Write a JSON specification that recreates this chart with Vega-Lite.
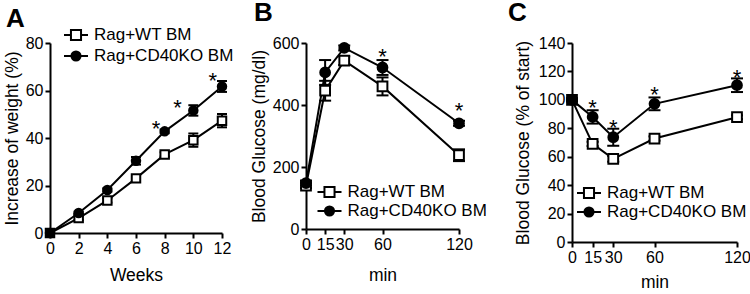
{
  "$schema": "https://vega.github.io/schema/vega-lite/v6.json",
  "background": "white",
  "padding": {"left": 3, "top": 0, "right": 5, "bottom": 5},
  "config": {
    "view": {"stroke": null},
    "font": "Liberation Sans",
    "axis": {
      "domainColor": "black", "domainWidth": 2, "tickColor": "black", "tickWidth": 2, "tickSize": 5,
      "labelFont": "Liberation Sans", "labelFontSize": 16, "labelColor": "black", "labelPadding": 2,
      "labelFlush": false, "labelOverlap": false, "labelBound": false,
      "titleFont": "Liberation Sans", "titleFontSize": 17.5, "titleFontWeight": "normal", "titleColor": "black",
      "grid": false
    },
    "legend": {
      "padding": 0, "labelFont": "Liberation Sans", "labelFontSize": 17, "labelColor": "black",
      "symbolSize": 576, "symbolStrokeWidth": 2, "symbolStrokeColor": "black", "labelOffset": 5, "rowPadding": 1
    },
    "title": {"font": "Liberation Sans", "fontSize": 26, "fontWeight": "bold", "color": "black", "anchor": "start", "frame": "group"}
  },
  "datasets": {
    "a": [
      {"week": 0, "series": "Rag+WT BM", "mean": 0, "lo": 0, "hi": 0},
      {"week": 2, "series": "Rag+WT BM", "mean": 6.3, "lo": 5.5, "hi": 7.1},
      {"week": 4, "series": "Rag+WT BM", "mean": 13.7, "lo": 12.8, "hi": 14.6},
      {"week": 6, "series": "Rag+WT BM", "mean": 23.0, "lo": 22.0, "hi": 24.0},
      {"week": 8, "series": "Rag+WT BM", "mean": 33.1, "lo": 32.2, "hi": 34.0},
      {"week": 10, "series": "Rag+WT BM", "mean": 39.1, "lo": 36.3, "hi": 41.9},
      {"week": 12, "series": "Rag+WT BM", "mean": 47.3, "lo": 44.5, "hi": 50.1},
      {"week": 0, "series": "Rag+CD40KO BM", "mean": 0, "lo": 0, "hi": 0},
      {"week": 2, "series": "Rag+CD40KO BM", "mean": 8.4, "lo": 7.8, "hi": 9.0},
      {"week": 4, "series": "Rag+CD40KO BM", "mean": 18.1, "lo": 17.4, "hi": 18.8},
      {"week": 6, "series": "Rag+CD40KO BM", "mean": 30.4, "lo": 28.8, "hi": 32.0},
      {"week": 8, "series": "Rag+CD40KO BM", "mean": 42.8, "lo": 42.0, "hi": 43.6},
      {"week": 10, "series": "Rag+CD40KO BM", "mean": 51.6, "lo": 49.4, "hi": 53.8},
      {"week": 12, "series": "Rag+CD40KO BM", "mean": 61.7, "lo": 59.4, "hi": 64.0}
    ],
    "aStar": [
      {"week": 7.4, "y": 46, "label": "*"},
      {"week": 8.9, "y": 55, "label": "*"},
      {"week": 11.35, "y": 66.3, "label": "*"}
    ],
    "b": [
      {"min": 0, "series": "Rag+WT BM", "mean": 140, "lo": 132, "hi": 148},
      {"min": 15, "series": "Rag+WT BM", "mean": 446, "lo": 414, "hi": 478},
      {"min": 30, "series": "Rag+WT BM", "mean": 543, "lo": 529, "hi": 557},
      {"min": 60, "series": "Rag+WT BM", "mean": 460, "lo": 431, "hi": 489},
      {"min": 120, "series": "Rag+WT BM", "mean": 238, "lo": 219, "hi": 257},
      {"min": 0, "series": "Rag+CD40KO BM", "mean": 148, "lo": 140, "hi": 156},
      {"min": 15, "series": "Rag+CD40KO BM", "mean": 505, "lo": 465, "hi": 545},
      {"min": 30, "series": "Rag+CD40KO BM", "mean": 584, "lo": 576, "hi": 592},
      {"min": 60, "series": "Rag+CD40KO BM", "mean": 521, "lo": 497, "hi": 545},
      {"min": 120, "series": "Rag+CD40KO BM", "mean": 341, "lo": 333, "hi": 349}
    ],
    "bStar": [
      {"min": 60, "y": 574, "label": "*"},
      {"min": 120, "y": 397, "label": "*"}
    ],
    "c": [
      {"min": 0, "series": "Rag+WT BM", "mean": 100, "lo": 99, "hi": 101},
      {"min": 15, "series": "Rag+WT BM", "mean": 69, "lo": 67.5, "hi": 70.5},
      {"min": 30, "series": "Rag+WT BM", "mean": 58.5, "lo": 56.5, "hi": 60.5},
      {"min": 60, "series": "Rag+WT BM", "mean": 72.8, "lo": 71.3, "hi": 74.3},
      {"min": 120, "series": "Rag+WT BM", "mean": 87.8, "lo": 86.5, "hi": 89.1},
      {"min": 0, "series": "Rag+CD40KO BM", "mean": 100, "lo": 99, "hi": 101},
      {"min": 15, "series": "Rag+CD40KO BM", "mean": 88, "lo": 83.3, "hi": 92.7},
      {"min": 30, "series": "Rag+CD40KO BM", "mean": 73.7, "lo": 67.7, "hi": 79.7},
      {"min": 60, "series": "Rag+CD40KO BM", "mean": 97.2, "lo": 92.7, "hi": 101.7},
      {"min": 120, "series": "Rag+CD40KO BM", "mean": 110.3, "lo": 105.5, "hi": 115.1}
    ],
    "cStar": [
      {"min": 15, "y": 98.3, "label": "*"},
      {"min": 30, "y": 84.3, "label": "*"},
      {"min": 60, "y": 107.2, "label": "*"},
      {"min": 120, "y": 119, "label": "*"}
    ]
  },
  "hconcat": [
    {
      "spacing": 16,
      "hconcat": [
        {
          "width": 172, "height": 190,
          "title": {"text": "A", "dx": -44, "offset": -10},
          "encoding": {
            "x": {"field": "week", "type": "quantitative", "scale": {"domain": [0, 12], "nice": false}, "axis": {"values": [0, 2, 4, 6, 8, 10, 12], "title": "Weeks", "labelOverlap": false, "titlePadding": 10}}
          },
          "layer": [
            {"data": {"name": "a"}, "mark": {"type": "rule", "color": "black", "strokeWidth": 2},
             "encoding": {"y": {"field": "lo", "type": "quantitative", "scale": {"domain": [0, 80], "nice": false}, "axis": {"values": [0, 20, 40, 60, 80], "title": "Increase of weight (%)", "titlePadding": 4, "labelOverlap": false}},
                          "y2": {"field": "hi"}}},
            {"data": {"name": "a"}, "mark": {"type": "tick", "orient": "horizontal", "size": 10, "thickness": 2, "color": "black", "opacity": 1},
             "encoding": {"y": {"field": "hi", "type": "quantitative", "scale": {"domain": [0, 80], "nice": false}, "axis": {"values": [0, 20, 40, 60, 80], "title": "Increase of weight (%)", "titlePadding": 4, "labelOverlap": false}}}},
            {"data": {"name": "a"}, "mark": {"type": "tick", "orient": "horizontal", "size": 10, "thickness": 2, "color": "black", "opacity": 1},
             "encoding": {"y": {"field": "lo", "type": "quantitative", "scale": {"domain": [0, 80], "nice": false}, "axis": {"values": [0, 20, 40, 60, 80], "title": "Increase of weight (%)", "titlePadding": 4, "labelOverlap": false}}}},
            {"data": {"name": "a"}, "mark": {"type": "line", "color": "black", "strokeWidth": 2},
             "encoding": {"y": {"field": "mean", "type": "quantitative", "scale": {"domain": [0, 80], "nice": false}, "axis": {"values": [0, 20, 40, 60, 80], "title": "Increase of weight (%)", "titlePadding": 4, "labelOverlap": false}}, "detail": {"field": "series"}}},
            {"data": {"name": "a"}, "transform": [{"filter": {"field": "series", "equal": "Rag+WT BM"}}],
             "mark": {"type": "point", "shape": "square", "filled": true, "fill": "white", "strokeWidth": 2, "opacity": 1, "size": 72},
             "encoding": {
               "y": {"field": "mean", "type": "quantitative", "scale": {"domain": [0, 80], "nice": false}, "axis": {"values": [0, 20, 40, 60, 80], "title": "Increase of weight (%)", "titlePadding": 4, "labelOverlap": false}},
               "stroke": {"field": "series", "type": "nominal", "scale": {"range": ["black"]},
                 "legend": {"title": null, "orient": "none", "legendX": 13, "legendY": -21,
                   "symbolType": "M-1,0H-0.42M0.42,0H1M-0.42,-0.42H0.42V0.42H-0.42Z", "symbolFillColor": "white", "symbolStrokeColor": "black", "symbolStrokeWidth": 2, "symbolSize": 576}}
             }},
            {"data": {"name": "a"}, "transform": [{"filter": {"field": "series", "equal": "Rag+CD40KO BM"}}],
             "mark": {"type": "point", "shape": "circle", "filled": true, "fill": "black", "strokeWidth": 2, "opacity": 1, "size": 72},
             "encoding": {
               "y": {"field": "mean", "type": "quantitative", "scale": {"domain": [0, 80], "nice": false}, "axis": {"values": [0, 20, 40, 60, 80], "title": "Increase of weight (%)", "titlePadding": 4, "labelOverlap": false}},
               "stroke": {"field": "series", "type": "nominal", "scale": {"range": ["black"]},
                 "legend": {"title": null, "orient": "none", "legendX": 13, "legendY": 0,
                   "symbolType": "M-1,0H1M0.38,0A0.38,0.38,0,1,1,-0.38,0A0.38,0.38,0,1,1,0.38,0Z", "symbolFillColor": "black", "symbolStrokeColor": "black", "symbolStrokeWidth": 2, "symbolSize": 576}}
             }},
            {"data": {"name": "aStar"}, "mark": {"type": "text", "fontSize": 22, "baseline": "alphabetic", "dy": 12.5, "color": "black", "font": "Liberation Sans"},
             "encoding": {"y": {"field": "y", "type": "quantitative", "scale": {"domain": [0, 80], "nice": false}, "axis": {"values": [0, 20, 40, 60, 80], "title": "Increase of weight (%)", "titlePadding": 4, "labelOverlap": false}}, "text": {"field": "label"}}}
          ],
          "resolve": {"scale": {"stroke": "independent"}, "legend": {"stroke": "independent"}}
        },
        {
          "width": 153, "height": 186,
          "title": {"text": "B", "dx": -52, "offset": 9},
          "encoding": {
            "x": {"field": "min", "type": "quantitative", "scale": {"domain": [0, 120], "nice": false}, "axis": {"values": [0, 15, 30, 60, 120], "title": "min", "labelOverlap": false, "titlePadding": 14}}
          },
          "layer": [
            {"data": {"name": "b"}, "mark": {"type": "rule", "color": "black", "strokeWidth": 2},
             "encoding": {"y": {"field": "lo", "type": "quantitative", "scale": {"domain": [0, 600], "nice": false}, "axis": {"values": [0, 200, 400, 600], "title": "Blood Glucose (mg/dl)", "titlePadding": 4, "labelOverlap": false}},
                          "y2": {"field": "hi"}}},
            {"data": {"name": "b"}, "mark": {"type": "tick", "orient": "horizontal", "size": 12, "thickness": 2, "color": "black", "opacity": 1},
             "encoding": {"y": {"field": "hi", "type": "quantitative", "scale": {"domain": [0, 600], "nice": false}, "axis": {"values": [0, 200, 400, 600], "title": "Blood Glucose (mg/dl)", "titlePadding": 4, "labelOverlap": false}}}},
            {"data": {"name": "b"}, "mark": {"type": "tick", "orient": "horizontal", "size": 12, "thickness": 2, "color": "black", "opacity": 1},
             "encoding": {"y": {"field": "lo", "type": "quantitative", "scale": {"domain": [0, 600], "nice": false}, "axis": {"values": [0, 200, 400, 600], "title": "Blood Glucose (mg/dl)", "titlePadding": 4, "labelOverlap": false}}}},
            {"data": {"name": "b"}, "mark": {"type": "line", "color": "black", "strokeWidth": 2},
             "encoding": {"y": {"field": "mean", "type": "quantitative", "scale": {"domain": [0, 600], "nice": false}, "axis": {"values": [0, 200, 400, 600], "title": "Blood Glucose (mg/dl)", "titlePadding": 4, "labelOverlap": false}}, "detail": {"field": "series"}}},
            {"data": {"name": "b"}, "transform": [{"filter": {"field": "series", "equal": "Rag+WT BM"}}],
             "mark": {"type": "point", "shape": "square", "filled": true, "fill": "white", "strokeWidth": 2, "opacity": 1, "size": 95},
             "encoding": {
               "y": {"field": "mean", "type": "quantitative", "scale": {"domain": [0, 600], "nice": false}, "axis": {"values": [0, 200, 400, 600], "title": "Blood Glucose (mg/dl)", "titlePadding": 4, "labelOverlap": false}},
               "stroke": {"field": "series", "type": "nominal", "scale": {"range": ["black"]},
                 "legend": {"title": null, "orient": "none", "legendX": 10.5, "legendY": 136,
                   "symbolType": "M-1,0H-0.42M0.42,0H1M-0.42,-0.42H0.42V0.42H-0.42Z", "symbolFillColor": "white", "symbolStrokeColor": "black", "symbolStrokeWidth": 2, "symbolSize": 576}}
             }},
            {"data": {"name": "b"}, "transform": [{"filter": {"field": "series", "equal": "Rag+CD40KO BM"}}],
             "mark": {"type": "point", "shape": "circle", "filled": true, "fill": "black", "strokeWidth": 2, "opacity": 1, "size": 95},
             "encoding": {
               "y": {"field": "mean", "type": "quantitative", "scale": {"domain": [0, 600], "nice": false}, "axis": {"values": [0, 200, 400, 600], "title": "Blood Glucose (mg/dl)", "titlePadding": 4, "labelOverlap": false}},
               "stroke": {"field": "series", "type": "nominal", "scale": {"range": ["black"]},
                 "legend": {"title": null, "orient": "none", "legendX": 10.5, "legendY": 155,
                   "symbolType": "M-1,0H1M0.38,0A0.38,0.38,0,1,1,-0.38,0A0.38,0.38,0,1,1,0.38,0Z", "symbolFillColor": "black", "symbolStrokeColor": "black", "symbolStrokeWidth": 2, "symbolSize": 576}}
             }},
            {"data": {"name": "bStar"}, "mark": {"type": "text", "fontSize": 22, "baseline": "alphabetic", "dy": 12.5, "color": "black", "font": "Liberation Sans"},
             "encoding": {"y": {"field": "y", "type": "quantitative", "scale": {"domain": [0, 600], "nice": false}, "axis": {"values": [0, 200, 400, 600], "title": "Blood Glucose (mg/dl)", "titlePadding": 4, "labelOverlap": false}}, "text": {"field": "label"}}}
          ],
          "resolve": {"scale": {"stroke": "independent"}, "legend": {"stroke": "independent"}}
        }
      ],
      "resolve": {"scale": {"stroke": "independent"}, "legend": {"stroke": "independent"}}
    },
    {
      "width": 165, "height": 199,
      "title": {"text": "C", "dx": -64, "offset": 9},
      "encoding": {
        "x": {"field": "min", "type": "quantitative", "scale": {"domain": [0, 120], "nice": false}, "axis": {"values": [0, 15, 30, 60, 120], "title": "min", "labelOverlap": false, "titlePadding": 8}}
      },
      "layer": [
        {"data": {"name": "c"}, "mark": {"type": "rule", "color": "black", "strokeWidth": 2},
         "encoding": {"y": {"field": "lo", "type": "quantitative", "scale": {"domain": [0, 140], "nice": false}, "axis": {"values": [0, 20, 40, 60, 80, 100, 120, 140], "title": "Blood Glucose (% of start)", "titlePadding": 6, "labelOverlap": false}},
                      "y2": {"field": "hi"}}},
        {"data": {"name": "c"}, "mark": {"type": "tick", "orient": "horizontal", "size": 12, "thickness": 2, "color": "black", "opacity": 1},
         "encoding": {"y": {"field": "hi", "type": "quantitative", "scale": {"domain": [0, 140], "nice": false}, "axis": {"values": [0, 20, 40, 60, 80, 100, 120, 140], "title": "Blood Glucose (% of start)", "titlePadding": 6, "labelOverlap": false}}}},
        {"data": {"name": "c"}, "mark": {"type": "tick", "orient": "horizontal", "size": 12, "thickness": 2, "color": "black", "opacity": 1},
         "encoding": {"y": {"field": "lo", "type": "quantitative", "scale": {"domain": [0, 140], "nice": false}, "axis": {"values": [0, 20, 40, 60, 80, 100, 120, 140], "title": "Blood Glucose (% of start)", "titlePadding": 6, "labelOverlap": false}}}},
        {"data": {"name": "c"}, "mark": {"type": "line", "color": "black", "strokeWidth": 2},
         "encoding": {"y": {"field": "mean", "type": "quantitative", "scale": {"domain": [0, 140], "nice": false}, "axis": {"values": [0, 20, 40, 60, 80, 100, 120, 140], "title": "Blood Glucose (% of start)", "titlePadding": 6, "labelOverlap": false}}, "detail": {"field": "series"}}},
        {"data": {"name": "c"}, "transform": [{"filter": {"field": "series", "equal": "Rag+WT BM"}}],
         "mark": {"type": "point", "shape": "square", "filled": true, "fill": "white", "strokeWidth": 2, "opacity": 1, "size": 95},
         "encoding": {
           "y": {"field": "mean", "type": "quantitative", "scale": {"domain": [0, 140], "nice": false}, "axis": {"values": [0, 20, 40, 60, 80, 100, 120, 140], "title": "Blood Glucose (% of start)", "titlePadding": 6, "labelOverlap": false}},
           "stroke": {"field": "series", "type": "nominal", "scale": {"range": ["black"]},
             "legend": {"title": null, "orient": "none", "legendX": 4, "legendY": 137,
               "symbolType": "M-1,0H-0.42M0.42,0H1M-0.42,-0.42H0.42V0.42H-0.42Z", "symbolFillColor": "white", "symbolStrokeColor": "black", "symbolStrokeWidth": 2, "symbolSize": 576}}
         }},
        {"data": {"name": "c"}, "transform": [{"filter": {"field": "series", "equal": "Rag+CD40KO BM"}}],
         "mark": {"type": "point", "shape": "circle", "filled": true, "fill": "black", "strokeWidth": 2, "opacity": 1, "size": 95},
         "encoding": {
           "y": {"field": "mean", "type": "quantitative", "scale": {"domain": [0, 140], "nice": false}, "axis": {"values": [0, 20, 40, 60, 80, 100, 120, 140], "title": "Blood Glucose (% of start)", "titlePadding": 6, "labelOverlap": false}},
           "stroke": {"field": "series", "type": "nominal", "scale": {"range": ["black"]},
             "legend": {"title": null, "orient": "none", "legendX": 4, "legendY": 156,
               "symbolType": "M-1,0H1M0.38,0A0.38,0.38,0,1,1,-0.38,0A0.38,0.38,0,1,1,0.38,0Z", "symbolFillColor": "black", "symbolStrokeColor": "black", "symbolStrokeWidth": 2, "symbolSize": 576}}
         }},
        {"data": {"name": "cStar"}, "mark": {"type": "text", "fontSize": 22, "baseline": "alphabetic", "dy": 12.5, "color": "black", "font": "Liberation Sans"},
         "encoding": {"y": {"field": "y", "type": "quantitative", "scale": {"domain": [0, 140], "nice": false}, "axis": {"values": [0, 20, 40, 60, 80, 100, 120, 140], "title": "Blood Glucose (% of start)", "titlePadding": 6, "labelOverlap": false}}, "text": {"field": "label"}}}
      ],
      "resolve": {"scale": {"stroke": "independent"}, "legend": {"stroke": "independent"}}
    }
  ],
  "spacing": 20,
  "resolve": {"scale": {"stroke": "independent"}, "legend": {"stroke": "independent"}}
}
